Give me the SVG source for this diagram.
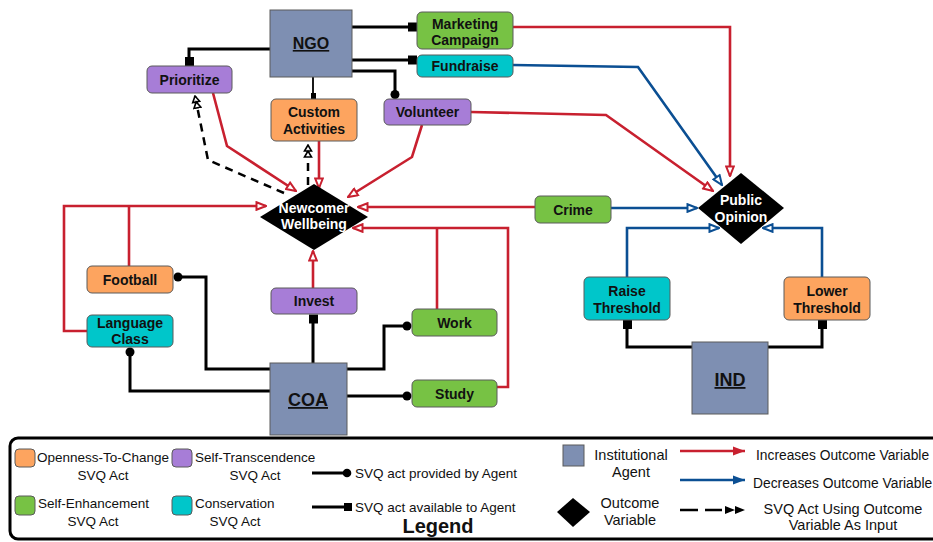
<svg xmlns="http://www.w3.org/2000/svg" width="933" height="542" viewBox="0 0 933 542">
<style>
text{font-family:"Liberation Sans",Arial,sans-serif;}
.lbl{font-size:14px;font-weight:bold;fill:#111;text-anchor:middle;}
.wlbl{font-size:14px;font-weight:bold;fill:#fff;text-anchor:middle;}
.agt{font-weight:bold;fill:#111;text-anchor:middle;text-decoration:underline;}
.node{stroke:#5a5a5a;stroke-width:1;}
.ote{fill:#fda45f;}
.stc{fill:#a77dd7;}
.sen{fill:#77c244;}
.con{fill:#00c6ca;}
.ins{fill:#7e8fb2;stroke:#5a5a5a;stroke-width:1;}
.blk{fill:none;stroke:#000;stroke-width:3;}
.red{fill:none;stroke:#c8202f;stroke-width:2.6;}
.blu{fill:none;stroke:#0b4f93;stroke-width:2.6;}
.dsh{fill:none;stroke:#000;stroke-width:2.5;stroke-dasharray:8,6;}
.lg{font-size:13.5px;fill:#111;}
.lgc{font-size:13.5px;fill:#111;text-anchor:middle;}
.lr{font-size:13.8px;fill:#111;}
.lrc{font-size:14.5px;fill:#111;text-anchor:middle;}
</style>
<defs>
<marker id="aR" viewBox="0 0 12 10" refX="11" refY="5" markerWidth="12" markerHeight="10" orient="auto" markerUnits="userSpaceOnUse"><path d="M1.5,1.2 L11,5 L1.5,8.8 z" fill="#fff" stroke="#c8202f" stroke-width="2"/></marker>
<marker id="aB" viewBox="0 0 12 10" refX="11" refY="5" markerWidth="12" markerHeight="10" orient="auto" markerUnits="userSpaceOnUse"><path d="M1.5,1.2 L11,5 L1.5,8.8 z" fill="#fff" stroke="#0b4f93" stroke-width="2"/></marker>
<marker id="aD" viewBox="0 0 14 10" refX="13" refY="5" markerWidth="14" markerHeight="10" orient="auto" markerUnits="userSpaceOnUse"><path d="M1,1.5 L7,5 L1,8.5 z M7,1.5 L13,5 L7,8.5 z" fill="#fff" stroke="#000" stroke-width="1.6"/></marker>
<marker id="fR" viewBox="0 0 12 10" refX="12" refY="5" markerWidth="12" markerHeight="10" orient="auto" markerUnits="userSpaceOnUse"><path d="M0,0.5 L12,5 L0,9.5 z" fill="#c8202f"/></marker>
<marker id="fB" viewBox="0 0 12 10" refX="12" refY="5" markerWidth="12" markerHeight="10" orient="auto" markerUnits="userSpaceOnUse"><path d="M0,0.5 L12,5 L0,9.5 z" fill="#0b4f93"/></marker>
<marker id="fD" viewBox="0 0 20 10" refX="20" refY="5" markerWidth="20" markerHeight="10" orient="auto" markerUnits="userSpaceOnUse"><path d="M0,1 L10,5 L0,9 z M10,1 L20,5 L10,9 z" fill="#000"/></marker>
</defs>

<g id="connectors">
  <path class="blk" d="M352,27 H409"/><rect x="408" y="22.5" width="9" height="9"/>
  <path class="blk" d="M352,60 H409"/><rect x="408" y="55.5" width="9" height="9"/>
  <path class="blk" d="M352,71 H395 V94"/><circle cx="395" cy="94.5" r="4.5"/>
  <path fill="none" stroke="#000" stroke-width="1.8" d="M313,77 V94"/><rect x="311" y="93" width="5" height="6"/>
  <path class="blk" d="M270,49 H189 V58"/><rect x="185" y="57" width="9" height="9"/>
  <path class="blk" d="M313,363 V322"/><rect x="309" y="314.5" width="9" height="9"/>
  <path class="blk" d="M347,369 H384 V326 H404"/><circle cx="407" cy="326" r="4.5"/>
  <path class="blk" d="M347,396 H404"/><circle cx="407" cy="396" r="4.5"/>
  <path class="blk" d="M270,369 H206 V277 H181"/><circle cx="178" cy="277" r="4.5"/>
  <path class="blk" d="M270,391 H130 V355"/><circle cx="130" cy="352" r="4.5"/>
  <path class="blk" d="M692,347 H627 V328"/><rect x="623" y="320" width="9" height="9"/>
  <path class="blk" d="M768,347 H822 V328"/><rect x="818" y="320" width="9" height="9"/>
  <path class="red" d="M513,27 H730 V176" marker-end="url(#aR)"/>
  <path class="red" d="M471,112 L606,115 L713,191" marker-end="url(#aR)"/>
  <path class="red" d="M422,125 L412,157 L348,197" marker-end="url(#aR)"/>
  <path class="red" d="M319,141 V188" marker-end="url(#aR)"/>
  <path class="red" d="M213,93 L227,146 L296,191" marker-end="url(#aR)"/>
  <path class="red" d="M535,207 H358" marker-end="url(#aR)"/>
  <path class="red" d="M87,331 H64 V206 H266" marker-end="url(#aR)"/>
  <path class="red" d="M129,266 V206"/>
  <path class="red" d="M497,387 H508 V228 H353" marker-end="url(#aR)"/>
  <path class="red" d="M437,309 V228"/>
  <path class="red" d="M313,288 V251" marker-end="url(#aR)"/>
  <path class="blu" d="M513,65 L638,67 L722,185" marker-end="url(#aB)"/>
  <path class="blu" d="M611,208 H697" marker-end="url(#aB)"/>
  <path class="blu" d="M627,277 V228 H719" marker-end="url(#aB)"/>
  <path class="blu" d="M822,277 V228 H763" marker-end="url(#aB)"/>
  <path class="dsh" d="M308,185 V145" marker-end="url(#aD)"/>
  <path class="dsh" d="M284,193 L208,160 L195,96" marker-end="url(#aD)"/>
</g>

<g id="ngo"><rect class="ins" x="270" y="10" width="82" height="67"/><text class="agt" x="311" y="49" font-size="16">NGO</text></g>
<g id="coa"><rect class="ins" x="270" y="363" width="77" height="72"/><text class="agt" x="308" y="406" font-size="18">COA</text></g>
<g id="ind"><rect class="ins" x="692" y="342" width="76" height="72"/><text class="agt" x="730" y="386" font-size="18">IND</text></g>

<g id="marketing"><rect class="node sen" x="417" y="12" width="96" height="37" rx="5"/><text class="lbl" x="465" y="29">Marketing</text><text class="lbl" x="465" y="45">Campaign</text></g>
<g id="fundraise"><rect class="node con" x="417" y="55" width="96" height="22" rx="5"/><text class="lbl" x="465" y="71">Fundraise</text></g>
<g id="volunteer"><rect class="node stc" x="384" y="99" width="87" height="26" rx="5"/><text class="lbl" x="427.5" y="117">Volunteer</text></g>
<g id="custom"><rect class="node ote" x="271" y="99" width="86" height="42" rx="5"/><text class="lbl" x="314" y="117">Custom</text><text class="lbl" x="314" y="134">Activities</text></g>
<g id="prioritize"><rect class="node stc" x="147" y="66" width="85" height="27" rx="5"/><text class="lbl" x="189.5" y="85">Prioritize</text></g>
<g id="football"><rect class="node ote" x="87" y="266" width="86" height="27" rx="5"/><text class="lbl" x="130" y="285">Football</text></g>
<g id="language"><rect class="node con" x="87" y="315" width="86" height="32" rx="5"/><text class="lbl" x="130" y="328">Language</text><text class="lbl" x="130" y="344">Class</text></g>
<g id="invest"><rect class="node stc" x="271" y="288" width="86" height="26" rx="5"/><text class="lbl" x="314" y="306">Invest</text></g>
<g id="work"><rect class="node sen" x="412" y="309" width="85" height="27" rx="5"/><text class="lbl" x="454.5" y="328">Work</text></g>
<g id="study"><rect class="node sen" x="412" y="380" width="85" height="27" rx="5"/><text class="lbl" x="454.5" y="399">Study</text></g>
<g id="crime"><rect class="node sen" x="535" y="196" width="76" height="27" rx="5"/><text class="lbl" x="573" y="215">Crime</text></g>
<g id="raise"><rect class="node con" x="584" y="277" width="86" height="43" rx="5"/><text class="lbl" x="627" y="296">Raise</text><text class="lbl" x="627" y="313">Threshold</text></g>
<g id="lower"><rect class="node ote" x="784" y="277" width="86" height="43" rx="5"/><text class="lbl" x="827" y="296">Lower</text><text class="lbl" x="827" y="313">Threshold</text></g>

<g id="newcomer"><polygon points="260,217 314,184 368,217 314,250" fill="#000"/><text class="wlbl" x="314" y="213">Newcomer</text><text class="wlbl" x="314" y="229">Wellbeing</text></g>
<g id="public"><polygon points="698,208 741,173 784,208 741,244" fill="#000"/><text class="wlbl" x="741" y="205">Public</text><text class="wlbl" x="741" y="222">Opinion</text></g>

<g id="legend">
  <rect x="10" y="438" width="940" height="101" rx="8" fill="none" stroke="#000" stroke-width="3"/>
  <rect class="node ote" x="15" y="449" width="20" height="18" rx="4"/>
  <text class="lg" x="37" y="462">Openness-To-Change</text><text class="lgc" x="103" y="480">SVQ Act</text>
  <rect class="node stc" x="172" y="449" width="20" height="18" rx="4"/>
  <text class="lg" x="195" y="462">Self-Transcendence</text><text class="lgc" x="255" y="480">SVQ Act</text>
  <rect class="node sen" x="15" y="496" width="20" height="19" rx="4"/>
  <text class="lg" x="38" y="508">Self-Enhancement</text><text class="lgc" x="93" y="526">SVQ Act</text>
  <rect class="node con" x="172" y="496" width="20" height="19" rx="4"/>
  <text class="lg" x="195" y="508">Conservation</text><text class="lgc" x="235" y="526">SVQ Act</text>
  <path class="blk" d="M312,473 H345" stroke-width="2.5"/><circle cx="347" cy="473" r="4.3"/>
  <text class="lg" x="355" y="478">SVQ act provided by Agent</text>
  <path class="blk" d="M312,507 H345" stroke-width="2.5"/><rect x="344" y="503" width="8" height="8"/>
  <text class="lg" x="355" y="512">SVQ act available to Agent</text>
  <text x="438" y="533" font-size="20" font-weight="bold" text-anchor="middle" fill="#111">Legend</text>
  <rect class="ins" x="563" y="445" width="21" height="21"/>
  <text class="lrc" x="631" y="460">Institutional</text><text class="lrc" x="631" y="477">Agent</text>
  <polygon points="557,512 573,498 590,512 573,527" fill="#000"/>
  <text class="lrc" x="630" y="508">Outcome</text><text class="lrc" x="630" y="525">Variable</text>
  <path d="M680,451 H745" fill="none" stroke="#c8202f" stroke-width="2.6" marker-end="url(#fR)"/>
  <text class="lr" x="756" y="460">Increases Outcome Variable</text>
  <path d="M680,480 H745" fill="none" stroke="#0b4f93" stroke-width="2.6" marker-end="url(#fB)"/>
  <text class="lr" x="753" y="488">Decreases Outcome Variable</text>
  <path d="M680,510 H698 M705,510 H722" fill="none" stroke="#000" stroke-width="2.6"/>
  <path d="M722,510 H745" fill="none" stroke="none" marker-end="url(#fD)"/>
  <text class="lrc" x="843" y="514">SVQ Act Using Outcome</text><text class="lrc" x="843" y="530">Variable As Input</text>
</g>
</svg>
